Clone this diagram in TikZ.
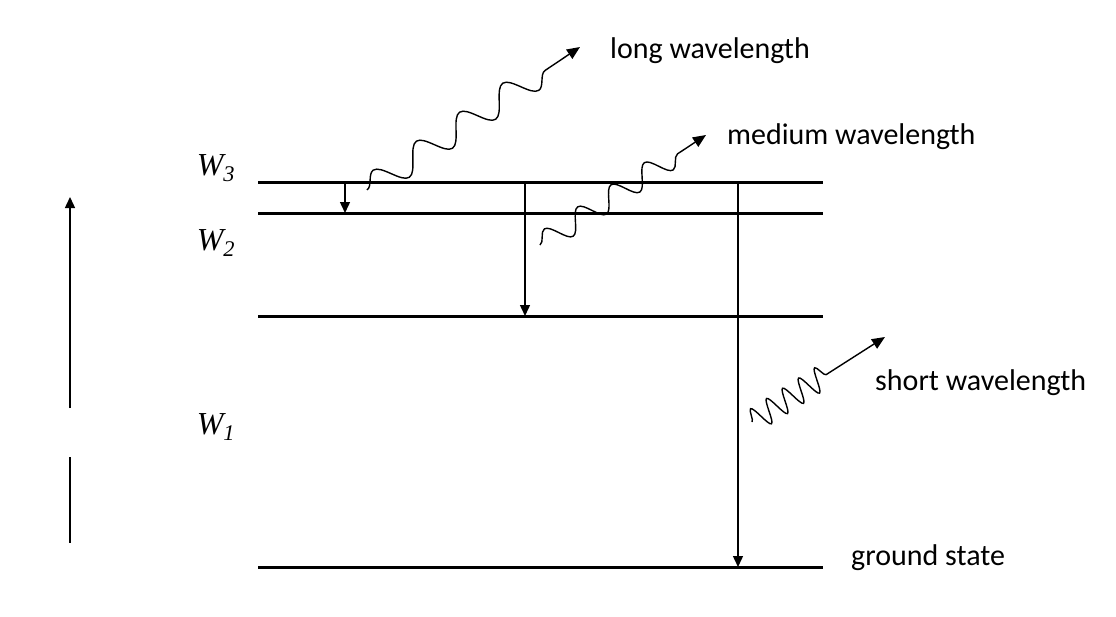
\documentclass[tikz,border=0pt]{standalone}
\usepackage{fontspec}
\setmainfont{Carlito}
\usetikzlibrary{decorations.pathmorphing,arrows.meta}
\begin{document}
\begin{tikzpicture}[x=1pt,y=-1pt,
  level/.style={line width=3pt},
  trans/.style={line width=1.4pt,-{Triangle[length=11pt,width=10pt]}},
  photon/.style={line width=1.4pt,-{Triangle[length=13pt,width=11pt]},decorate},
  lbl/.style={anchor=west,font=\fontsize{30}{34}\selectfont,inner sep=0},
  wl/.style={font=\fontsize{32}{34}\selectfont,inner sep=0}]
\useasboundingbox (0,0) rectangle (1116,616);
\coordinate (a3) at (258,182); \coordinate (b3) at (823,182);
\coordinate (a2) at (258,213); \coordinate (b2) at (823,213);
\coordinate (a1) at (258,316); \coordinate (b1) at (823,316);
\coordinate (a0) at (258,567); \coordinate (b0) at (823,567);
\draw[level] (a3)--(b3); \draw[level] (a2)--(b2);
\draw[level] (a1)--(b1); \draw[level] (a0)--(b0);
\coordinate (ar1) at (70,408); \coordinate (ar2) at (70,197);
\draw[trans] (ar1)--(ar2);
\coordinate (ln1) at (70,457); \coordinate (ln2) at (70,543);
\draw[line width=1.4pt] (ln1)--(ln2);
\node[wl] (w3) at (216,168) {\fontspec{Liberation Serif}\itshape W\textsubscript{3}};
\node[wl] (w2) at (216,243) {\fontspec{Liberation Serif}\itshape W\textsubscript{2}};
\node[wl] (w1) at (216,427) {\fontspec{Liberation Serif}\itshape W\textsubscript{1}};
\coordinate (t1s) at (345,182); \coordinate (t1e) at (345,213);
\coordinate (t2s) at (525,182); \coordinate (t2e) at (525,316);
\coordinate (t3s) at (738,182); \coordinate (t3e) at (738,567);
\draw[trans] (t1s)--(t1e); \draw[trans] (t2s)--(t2e); \draw[trans] (t3s)--(t3e);
\coordinate (p1s) at (367,190); \coordinate (p1e) at (580,47);
\coordinate (p2s) at (540,245); \coordinate (p2e) at (706,135);
\coordinate (p3s) at (752,422); \coordinate (p3e) at (885,337);
\draw[photon,decoration={snake,amplitude=13pt,segment length=52pt,post length=28pt}] (p1s)--(p1e);
\draw[photon,decoration={snake,amplitude=11pt,segment length=40pt,post length=22pt}] (p2s)--(p2e);
\draw[photon,decoration={snake,amplitude=12pt,segment length=19pt,post length=62pt}] (p3s)--(p3e);
\node[lbl] (l1) at (610,51) {long wavelength};
\node[lbl] (l2) at (727,137) {medium wavelength};
\node[lbl] (l3) at (875,383) {short wavelength};
\node[lbl] (l4) at (851,558) {ground state};
\end{tikzpicture}
\end{document}
